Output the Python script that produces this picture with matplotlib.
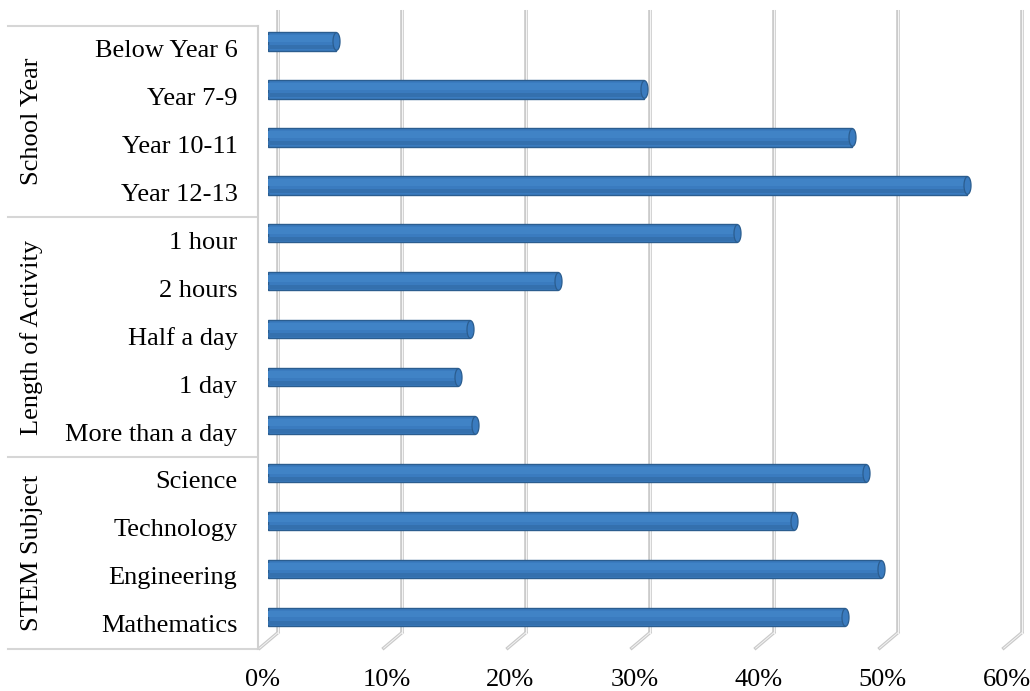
import matplotlib.pyplot as plt
import matplotlib.transforms as mtransforms
from matplotlib.path import Path
import numpy as np

groups = ["School Year", "Length of Activity", "STEM Subject"]
categories = [
    ["Below Year 6", "Year 7-9", "Year 10-11", "Year 12-13"],
    ["1 hour", "2 hours", "Half a day", "1 day", "More than a day"],
    ["Science", "Technology", "Engineering", "Mathematics"],
]
values = [
    [5.5, 30.3, 47.1, 56.4],
    [37.8, 23.4, 16.3, 15.3, 16.7],
    [48.2, 42.4, 49.4, 46.5],
]
xticks = [0, 10, 20, 30, 40, 50, 60]

plt.rcParams['font.family'] = ['Liberation Serif', 'DejaVu Serif']
FS = 19

labels = [c for grp in categories for c in grp]
vals = [v for grp in values for v in grp]
ypos = np.arange(len(labels))

fig = plt.figure(figsize=(10.3, 6.91), dpi=100)
ax = fig.add_axes([268 / 1030, 1 - 641 / 691, 744 / 1030, 631 / 691])
ax.set_xlim(0, 60)
ax.set_ylim(12.5, -0.65)
for s in ax.spines.values():
    s.set_visible(False)

# 3D-ish depth offsets (in points)
back = mtransforms.ScaledTranslation(7 / 72, 0, fig.dpi_scale_trans)
front = mtransforms.ScaledTranslation(-6 / 72, -11 / 72, fig.dpi_scale_trans)
ybot = 12.33

# gridlines on the back wall with a floor segment coming forward
for t in xticks:
    ax.plot([t, t], [-0.65, ybot], color='#c9c9c9', lw=2.6, transform=ax.transData + back,
            solid_capstyle='butt', zorder=1, clip_on=False)
    ax.plot([t, t], [-0.65, ybot], color='#f4f4f4', lw=0.8, transform=ax.transData + back,
            zorder=1.1, clip_on=False)
    p0 = (ax.transData + back).transform((t, ybot))
    p1 = (ax.transData + front).transform((t, ybot))
    ax.plot([p0[0], p1[0]], [p0[1], p1[1]], color='#c9c9c9', lw=2.4, transform=None,
            zorder=1, clip_on=False)
    ax.plot([p0[0], p1[0]], [p0[1], p1[1]], color='#f4f4f4', lw=0.7, transform=None,
            zorder=1.1, clip_on=False)

# cylinder-like bars
ax.barh(ypos, vals, height=0.39, color='#3a7bbf', edgecolor='#2b5d8f', linewidth=1.0, zorder=3)
ax.barh(ypos - 0.06, vals, height=0.14, color='#4083c6', linewidth=0, zorder=3.2)
ax.barh(ypos + 0.12, vals, height=0.09, color='#3470ae', linewidth=0, zorder=3.1)

# elliptical end caps
th = np.linspace(0, 2 * np.pi, 60)
cap = Path(np.column_stack([0.4 * np.cos(th), np.sin(th)]))
ax.scatter(vals, ypos, s=160, marker=cap, color='#3a7bbf', edgecolors='#2b5d8f',
           linewidths=0.9, zorder=3.3)

ax.set_yticks(ypos)
ax.set_yticklabels(labels, fontsize=FS)
ax.tick_params(axis='y', length=0, pad=22)
for lbl in ax.get_yticklabels():
    lbl.set_transform(lbl.get_transform() + mtransforms.ScaledTranslation(0, -5 / 72, fig.dpi_scale_trans))
ax.set_xticks(xticks)
ax.set_xticklabels([f"{t}%" for t in xticks], fontsize=FS)
ax.tick_params(axis='x', length=0, pad=20)
for lbl in ax.get_xticklabels():
    lbl.set_transform(lbl.get_transform() + mtransforms.ScaledTranslation(-4 / 72, 0, fig.dpi_scale_trans))

# group separators and labels on the left
trans = mtransforms.blended_transform_factory(ax.transAxes, ax.transData)
off = mtransforms.ScaledTranslation(0, -6 / 72, fig.dpi_scale_trans)
x0, x1 = (8 - 268) / 744, (258 - 268) / 744
start = 0
bounds = [-0.5]
for g, grp in zip(groups, categories):
    end = start + len(grp)
    bounds.append(end - 0.5)
    ax.text((32 - 268) / 744, (start + end - 1) / 2, g, rotation=90, fontsize=FS,
            ha='center', va='center', transform=trans + off)
    start = end
for b in bounds:
    ax.plot([x0, x1], [b, b], color='#d6d6d6', lw=1.5, transform=trans + off, clip_on=False)
ax.plot([x1, x1], [bounds[0], bounds[-1]], color='#d0d0d0', lw=1.5, transform=trans + off,
        clip_on=False)

fig.savefig("out.png", dpi=100)
